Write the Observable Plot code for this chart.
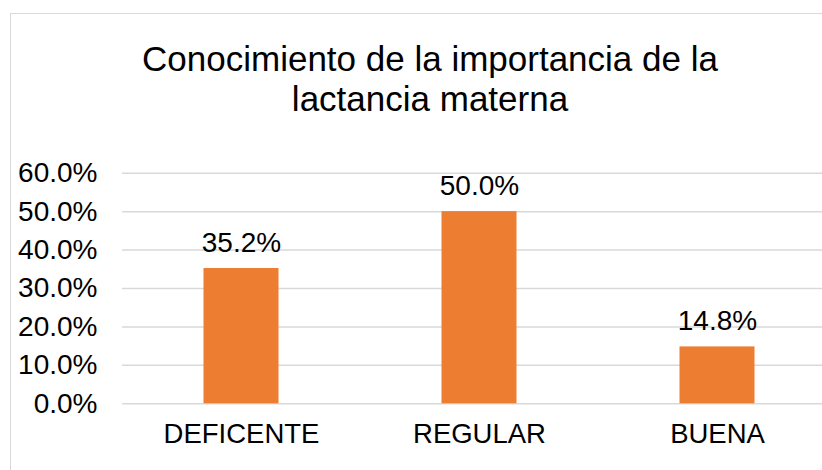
<!DOCTYPE html>
<html>
<head>
<meta charset="utf-8">
<script src="https://cdn.jsdelivr.net/npm/d3@7"></script>
<script src="https://cdn.jsdelivr.net/npm/@observablehq/plot@0.6"></script>
<style>
  body { margin: 0; background: #fff; }
  #wrap { position: relative; width: 822px; height: 470px; overflow: hidden; font-family: "Liberation Sans", Arial, sans-serif; }
  #border { position: absolute; left: 10px; top: 13px; width: 900px; height: 520px; border: 1.5px solid #d9d9d9; box-sizing: border-box; }
  #title { position: absolute; left: 10px; width: 840px; top: 39px; text-align: center; font-size: 35px; line-height: 40px; color: #000; }
  #chart { position: absolute; left: 0; top: 0; }
</style>
</head>
<body>
<div id="wrap">
  <div id="border"></div>
  <div id="title">Conocimiento de la importancia de la<br>lactancia materna</div>
  <div id="chart"></div>
</div>
<script>
const categories = ["DEFICENTE", "REGULAR", "BUENA"];
const values = [35.2, 50.0, 14.8];
const yTicks = [0, 10, 20, 30, 40, 50, 60];

const data = categories.map((c, i) => ({ cat: c, value: values[i] }));
const fmt = d => d.toFixed(1) + "%";

const chart = Plot.plot({
  width: 822,
  height: 470,
  marginLeft: 122,
  marginRight: 0,
  marginTop: 172.7,
  marginBottom: 66.7,
  style: { fontFamily: '"Liberation Sans", Arial, sans-serif', fontSize: "28px", color: "#000", background: "transparent", overflow: "visible" },
  x: { type: "band", domain: categories, range: [122, 836], padding: 0, label: null },
  y: { domain: [0, 60], ticks: yTicks, label: null },
  marks: [
    Plot.gridY(yTicks, { stroke: "#d9d9d9", strokeOpacity: 1, strokeWidth: 1.5 }),
    Plot.barY(data, { x: "cat", y: "value", fill: "#ED7D31", insetLeft: 81.5, insetRight: 81.5 }),
    Plot.text(data, { x: "cat", y: "value", text: d => fmt(d.value), dy: -17, lineAnchor: "bottom", fontSize: 28, fill: "#000" }),
    Plot.axisY(yTicks, { tickSize: 0, tickPadding: 25, tickFormat: fmt, fontSize: 28, fill: "#000" }),
    Plot.axisX(categories, { tickSize: 0, tickPadding: 20, fontSize: 27.5, fill: "#000" })
  ]
});
document.getElementById("chart").appendChild(chart);
</script>
</body>
</html>
